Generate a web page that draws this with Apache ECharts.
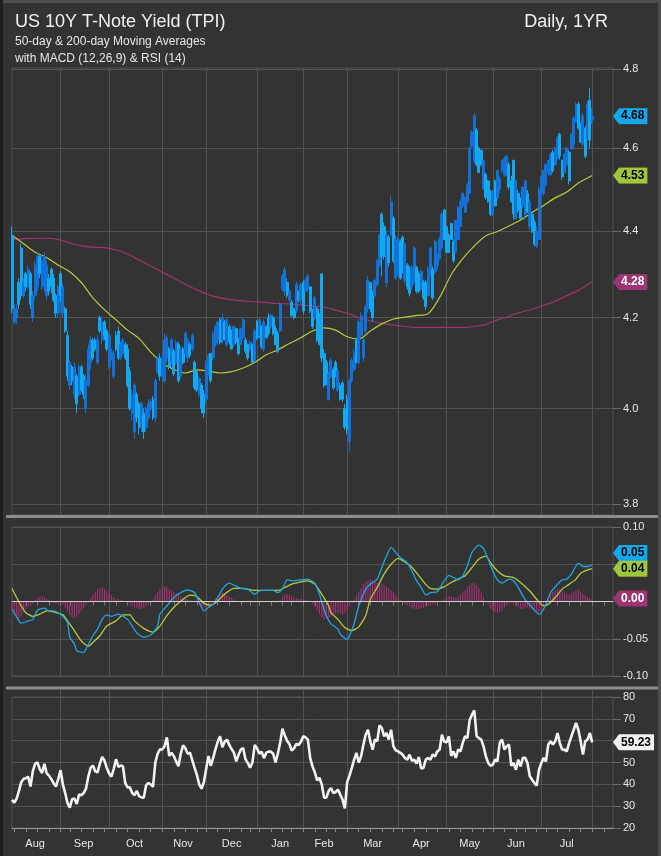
<!DOCTYPE html>
<html><head><meta charset="utf-8">
<script src="https://cdn.jsdelivr.net/npm/echarts@6/dist/echarts.min.js"></script>
<style>html,body{margin:0;padding:0;background:#333333;}#chart{width:661px;height:856px;}</style>
</head><body><div id="chart"></div>
<script>
// ---------------- DATA ----------------
const startDate = '2025-08-01';
const holidays = ['2025-09-01','2025-11-27','2025-12-25','2026-01-01','2026-01-19','2026-02-16','2026-04-03','2026-05-25','2026-06-19','2026-07-03'];
const paddingDays = 9;
const monthNames = ['Jan','Feb','Mar','Apr','May','Jun','Jul','Aug','Sep','Oct','Nov','Dec'];
const priceTicks = [3.8, 4.0, 4.2, 4.4, 4.6, 4.8];

// daily [open, close, low, high]
const ohlc = [
[4.39,4.22,4.21,4.41],[4.19,4.22,4.185,4.23],[4.20,4.22,4.186,4.23],[4.28,4.23,4.22,4.29],[4.36,4.25,4.24,4.37],
[4.25,4.28,4.245,4.29],[4.30,4.27,4.26,4.305],[4.27,4.31,4.265,4.32],[4.30,4.23,4.22,4.305],[4.20,4.25,4.19,4.26],
[4.25,4.32,4.24,4.33],[4.27,4.34,4.26,4.35],[4.34,4.30,4.29,4.345],[4.27,4.33,4.265,4.345],[4.28,4.34,4.26,4.35],
[4.25,4.32,4.24,4.33],[4.29,4.26,4.25,4.30],[4.31,4.27,4.255,4.315],[4.29,4.24,4.235,4.30],[4.25,4.21,4.20,4.255],
[4.21,4.27,4.20,4.275],[4.30,4.25,4.235,4.305],[4.21,4.27,4.20,4.28],[4.22,4.17,4.165,4.225],[4.16,4.07,4.06,4.17],
[4.05,4.10,4.04,4.105],[4.09,4.06,4.05,4.095],[4.03,4.09,4.02,4.10],[4.07,4.01,3.99,4.075],[4.03,4.09,4.025,4.095],
[4.09,4.04,4.035,4.095],[4.07,4.03,4.02,4.075],[4.00,4.06,3.99,4.075],[4.05,4.13,4.045,4.14],[4.10,4.15,4.085,4.16],
[4.15,4.11,4.105,4.155],[4.15,4.13,4.125,4.155],[4.10,4.15,4.095,4.16],[4.20,4.17,4.165,4.205],[4.15,4.19,4.14,4.20],
[4.19,4.16,4.15,4.195],[4.17,4.13,4.125,4.175],[4.09,4.16,4.085,4.165],[4.11,4.125,4.105,4.13],[4.07,4.12,4.065,4.125],
[4.16,4.13,4.125,4.17],[4.17,4.11,4.105,4.18],[4.11,4.14,4.105,4.145],[4.12,4.15,4.115,4.155],[4.14,4.11,4.105,4.145],
[4.13,4.05,4.045,4.14],[4.08,4.00,3.995,4.09],[3.99,4.03,3.975,4.04],[3.95,4.05,3.935,4.055],[4.03,3.98,3.97,4.035],
[4.01,3.96,3.945,4.015],[3.96,4.01,3.95,4.015],[3.99,3.95,3.935,4.00],[3.96,4.00,3.95,4.005],[3.98,4.01,3.975,4.02],
[4.00,4.015,3.995,4.02],[4.02,3.98,3.975,4.027],[3.98,4.06,3.97,4.065],[4.08,4.11,4.075,4.115],[4.11,4.07,4.06,4.12],
[4.07,4.11,4.065,4.12],[4.06,4.15,4.055,4.165],[4.11,4.155,4.10,4.16],[4.13,4.09,4.085,4.135],[4.10,4.15,4.095,4.155],
[4.125,4.075,4.07,4.13],[4.10,4.145,4.095,4.15],[4.14,4.06,4.055,4.145],[4.07,4.13,4.065,4.135],[4.13,4.10,4.095,4.135],
[4.12,4.165,4.115,4.17],[4.11,4.15,4.10,4.155],[4.14,4.115,4.11,4.145],[4.13,4.16,4.125,4.165],[4.10,4.045,4.04,4.105],
[4.08,4.04,4.035,4.08],[4.03,4.065,4.025,4.07],[4.05,4.00,3.99,4.055],[4.03,3.99,3.98,4.04],[4.02,4.10,4.01,4.105],
[4.08,4.115,4.07,4.12],[4.12,4.06,4.055,4.12],[4.11,4.165,4.105,4.17],[4.14,4.18,4.135,4.185],[4.15,4.19,4.14,4.193],
[4.195,4.145,4.14,4.20],[4.15,4.20,4.14,4.21],[4.19,4.15,4.15,4.195],[4.14,4.195,4.135,4.20],[4.18,4.145,4.14,4.185],
[4.17,4.13,4.128,4.172],[4.14,4.18,4.135,4.182],[4.175,4.145,4.14,4.178],[4.15,4.12,4.115,4.155],[4.14,4.175,4.138,4.178],
[4.155,4.195,4.15,4.20],[4.15,4.125,4.12,4.155],[4.14,4.11,4.105,4.142],[4.128,4.145,4.125,4.15],[4.14,4.10,4.098,4.142],
[4.105,4.17,4.10,4.175],[4.19,4.155,4.15,4.195],[4.16,4.195,4.153,4.20],[4.18,4.135,4.13,4.183],[4.13,4.19,4.124,4.196],
[4.18,4.155,4.153,4.183],[4.20,4.165,4.16,4.21],[4.18,4.205,4.175,4.21],[4.20,4.165,4.16,4.205],[4.175,4.14,4.138,4.182],
[4.165,4.125,4.12,4.17],[4.17,4.23,4.167,4.235],[4.265,4.295,4.26,4.30],[4.26,4.31,4.25,4.316],[4.28,4.25,4.245,4.29],
[4.24,4.26,4.235,4.265],[4.235,4.205,4.20,4.24],[4.22,4.20,4.196,4.222],[4.215,4.275,4.21,4.282],[4.26,4.24,4.235,4.262],
[4.24,4.275,4.23,4.28],[4.28,4.215,4.208,4.285],[4.26,4.285,4.258,4.29],[4.265,4.295,4.26,4.30],[4.27,4.215,4.21,4.27],
[4.215,4.18,4.175,4.22],[4.20,4.245,4.196,4.25],[4.22,4.15,4.145,4.225],[4.20,4.14,4.138,4.21],[4.30,4.11,4.10,4.30],
[4.12,4.05,4.045,4.13],[4.10,4.055,4.05,4.105],[4.02,4.075,4.017,4.08],[4.07,4.105,4.065,4.11],[4.085,4.045,4.04,4.09],
[4.10,4.07,4.068,4.105],[4.04,4.08,4.035,4.088],[4.05,4.02,4.017,4.056],[4.055,4.02,4.014,4.06],[4.00,3.96,3.955,4.01],
[4.02,3.955,3.945,4.03],[3.93,4.06,3.909,4.065],[4.06,4.105,4.055,4.11],[4.085,4.12,4.08,4.13],[4.15,4.10,4.098,4.155],
[4.10,4.19,4.095,4.197],[4.16,4.205,4.153,4.212],[4.11,4.15,4.102,4.155],[4.17,4.225,4.165,4.23],[4.22,4.285,4.212,4.295],
[4.28,4.22,4.212,4.282],[4.26,4.20,4.19,4.26],[4.25,4.285,4.245,4.29],[4.275,4.33,4.27,4.335],[4.32,4.39,4.315,4.395],
[4.44,4.34,4.294,4.445],[4.41,4.34,4.333,4.42],[4.28,4.39,4.27,4.40],[4.385,4.325,4.317,4.39],[4.39,4.47,4.386,4.485],
[4.43,4.33,4.325,4.435],[4.29,4.38,4.286,4.39],[4.30,4.38,4.294,4.387],[4.375,4.29,4.286,4.38],[4.385,4.305,4.302,4.39],
[4.285,4.37,4.278,4.372],[4.32,4.27,4.263,4.325],[4.31,4.255,4.248,4.317],[4.27,4.315,4.263,4.32],[4.28,4.36,4.275,4.364],
[4.315,4.26,4.255,4.318],[4.30,4.26,4.255,4.306],[4.265,4.305,4.26,4.31],[4.28,4.245,4.24,4.286],[4.28,4.225,4.217,4.286],
[4.25,4.31,4.248,4.317],[4.30,4.36,4.294,4.364],[4.31,4.245,4.24,4.317],[4.305,4.375,4.30,4.38],[4.32,4.345,4.31,4.348],
[4.335,4.38,4.333,4.387],[4.36,4.44,4.356,4.445],[4.45,4.38,4.379,4.452],[4.41,4.35,4.348,4.412],[4.39,4.35,4.348,4.395],
[4.418,4.38,4.379,4.42],[4.375,4.33,4.325,4.38],[4.35,4.425,4.348,4.427],[4.38,4.455,4.379,4.46],[4.41,4.47,4.41,4.475],
[4.46,4.49,4.455,4.492],[4.445,4.48,4.443,4.483],[4.47,4.51,4.467,4.515],[4.49,4.60,4.49,4.605],[4.605,4.64,4.60,4.646],
[4.57,4.68,4.564,4.688],[4.645,4.56,4.556,4.65],[4.60,4.54,4.54,4.604],[4.595,4.56,4.556,4.597],[4.50,4.57,4.498,4.572],
[4.535,4.48,4.475,4.54],[4.52,4.47,4.467,4.523],[4.49,4.44,4.435,4.498],[4.44,4.495,4.435,4.498],[4.52,4.46,4.459,4.523],
[4.48,4.545,4.475,4.548],[4.50,4.525,4.49,4.532],[4.545,4.57,4.54,4.572],[4.535,4.575,4.53,4.58],[4.54,4.58,4.532,4.584],
[4.56,4.505,4.499,4.566],[4.52,4.47,4.467,4.532],[4.57,4.44,4.427,4.572],[4.43,4.52,4.427,4.523],[4.49,4.45,4.443,4.498],
[4.475,4.43,4.427,4.48],[4.46,4.505,4.455,4.507],[4.44,4.52,4.427,4.523],[4.49,4.445,4.443,4.498],[4.41,4.47,4.403,4.475],
[4.44,4.40,4.395,4.443],[4.42,4.37,4.364,4.427],[4.365,4.40,4.36,4.41],[4.38,4.50,4.379,4.507],[4.49,4.53,4.483,4.532],
[4.49,4.545,4.483,4.548],[4.51,4.56,4.507,4.564],[4.54,4.57,4.533,4.572],[4.535,4.585,4.532,4.588],[4.59,4.545,4.54,4.596],
[4.56,4.60,4.556,4.604],[4.575,4.625,4.572,4.63],[4.635,4.58,4.572,4.638],[4.57,4.53,4.523,4.572],[4.54,4.585,4.54,4.588],
[4.56,4.60,4.556,4.604],[4.59,4.52,4.511,4.596],[4.60,4.635,4.596,4.638],[4.61,4.675,4.596,4.68],[4.665,4.71,4.663,4.714],
[4.71,4.65,4.646,4.716],[4.655,4.615,4.613,4.663],[4.61,4.68,4.604,4.688],[4.65,4.58,4.575,4.655],[4.625,4.71,4.621,4.718],
[4.72,4.62,4.60,4.752],[4.67,4.68,4.66,4.70]
];

// moving averages read at trading-day indices: [day, value]
const ma50 = [[0,4.39],[5,4.37],[10,4.35],[15,4.338],[20,4.32],[25,4.305],[30,4.28],[35,4.245],[40,4.218],[45,4.195],
[50,4.172],[55,4.153],[60,4.123],[65,4.099],[70,4.085],[75,4.077],[80,4.084],[85,4.081],[90,4.077],[95,4.080],
[100,4.088],[105,4.10],[110,4.117],[115,4.128],[120,4.142],[125,4.155],[130,4.170],[135,4.177],[140,4.172],[145,4.157],
[150,4.152],[155,4.17],[160,4.186],[165,4.197],[170,4.201],[175,4.205],[180,4.209],[185,4.246],[190,4.298],[195,4.335],
[200,4.365],[205,4.389],[210,4.399],[215,4.412],[220,4.426],[225,4.444],[230,4.461],[235,4.479],[240,4.493],[245,4.515],
[250,4.53],[251,4.533]];
const ma200 = [[0,4.379],[5,4.382],[10,4.383],[15,4.383],[20,4.38],[25,4.372],[30,4.365],[35,4.362],[40,4.361],[45,4.356],
[50,4.346],[55,4.332],[60,4.318],[65,4.304],[70,4.29],[75,4.276],[80,4.263],[85,4.252],[90,4.245],[95,4.241],
[100,4.238],[105,4.236],[110,4.234],[115,4.232],[120,4.231],[125,4.229],[130,4.226],[135,4.224],[140,4.217],[145,4.21],
[150,4.2],[155,4.193],[160,4.187],[165,4.183],[170,4.18],[175,4.178],[180,4.178],[185,4.178],[190,4.178],[195,4.178],
[200,4.18],[205,4.185],[210,4.195],[215,4.203],[220,4.212],[225,4.219],[230,4.228],[235,4.237],[240,4.25],[245,4.262],
[250,4.279],[251,4.281]];

// MACD (12,26,9): [day, value]
const macdLine = [[0,-0.010],[3,-0.026],[4,-0.029],[7,-0.026],[9,-0.024],[11,-0.012],[14,-0.009],[16,-0.0125],[18,-0.0125],[21,-0.017],
[22,-0.020],[24,-0.028],[25,-0.048],[27,-0.057],[28,-0.066],[31,-0.0685],[32,-0.064],[35,-0.046],[37,-0.037],[39,-0.024],
[41,-0.018],[43,-0.020],[46,-0.017],[50,-0.024],[52,-0.033],[54,-0.042],[57,-0.048],[60,-0.045],[61,-0.042],[63,-0.033],
[64,-0.017],[67,-0.006],[70,0.0054],[73,0.012],[76,0.0157],[79,0.012],[81,-0.0013],[83,-0.0125],[85,-0.008],[87,-0.0036],
[89,0.0054],[91,0.0166],[94,0.0246],[96,0.022],[99,0.0175],[102,0.0166],[105,0.0099],[107,0.0143],[110,0.0148],[113,0.0148],
[115,0.012],[117,0.0166],[119,0.029],[122,0.0278],[125,0.029],[128,0.030],[131,0.0246],[133,0.0099],[134,-0.0013],[136,-0.019],
[138,-0.030],[141,-0.037],[142,-0.044],[145,-0.051],[146,-0.046],[148,-0.030],[150,-0.006],[153,0.0166],[155,0.023],[158,0.030],
[160,0.0457],[162,0.061],[164,0.0726],[166,0.066],[168,0.059],[171,0.052],[173,0.041],[175,0.028],[177,0.019],[179,0.0085],
[181,0.012],[184,0.013],[186,0.023],[189,0.035],[191,0.032],[193,0.029],[195,0.0345],[197,0.048],[199,0.066],[202,0.0757],
[204,0.071],[206,0.057],[208,0.041],[210,0.029],[212,0.0246],[215,0.030],[217,0.0278],[219,0.019],[221,0.0076],[223,-0.0013],
[225,-0.008],[228,-0.017],[229,-0.0148],[231,-0.0036],[233,0.012],[236,0.023],[238,0.029],[240,0.030],[242,0.0367],[245,0.0515],
[247,0.047],[249,0.047],[251,0.049]];
const signalLine = [[0,0.0175],[2,0.0054],[4,-0.006],[6,-0.015],[9,-0.020],[12,-0.017],[15,-0.0125],[18,-0.014],[22,-0.018],[24,-0.026],
[27,-0.039],[30,-0.053],[33,-0.060],[35,-0.055],[38,-0.046],[41,-0.033],[45,-0.026],[48,-0.018],[51,-0.018],[53,-0.026],
[57,-0.036],[61,-0.041],[64,-0.033],[67,-0.019],[70,-0.008],[74,0.003],[77,0.0085],[80,0.0067],[83,-0.0022],[86,-0.005],
[89,0.0009],[92,0.0099],[96,0.0175],[100,0.0175],[105,0.0148],[110,0.0148],[115,0.0148],[118,0.0188],[121,0.0233],[125,0.0264],
[128,0.0278],[131,0.0233],[134,0.0099],[137,-0.006],[138,-0.015],[141,-0.024],[144,-0.035],[147,-0.039],[150,-0.034],[153,-0.019],
[155,0.003],[158,0.019],[161,0.037],[164,0.050],[167,0.058],[170,0.053],[173,0.046],[176,0.0345],[179,0.023],[181,0.0175],
[184,0.0166],[187,0.020],[190,0.0255],[193,0.030],[196,0.0345],[199,0.0457],[202,0.057],[205,0.061],[207,0.052],[210,0.041],
[213,0.0345],[217,0.032],[220,0.0255],[224,0.014],[227,0.003],[230,-0.006],[232,-0.0036],[235,0.0054],[238,0.0166],[241,0.023],
[244,0.030],[246,0.038],[249,0.0425],[251,0.044]];
// MACD histogram, daily
const macdHist = [
-0.010,-0.018,-0.022,-0.024,-0.020,-0.015,-0.010,-0.007,-0.005,-0.003,
0.002,0.004,0.006,0.007,0.006,0.004,0.002,-0.001,-0.002,-0.003,
-0.003,-0.002,-0.004,-0.008,-0.013,-0.018,-0.021,-0.022,-0.020,-0.017,
-0.013,-0.009,-0.005,-0.001,0.004,0.009,0.013,0.016,0.018,0.019,
0.017,0.014,0.011,0.008,0.006,0.004,0.003,0.002,0.001,0.000,
-0.002,-0.004,-0.006,-0.008,-0.009,-0.010,-0.010,-0.008,-0.006,-0.004,
-0.001,0.003,0.008,0.013,0.017,0.019,0.020,0.019,0.017,0.015,
0.013,0.011,0.009,0.007,0.005,0.004,0.003,0.002,0.001,-0.001,
-0.003,-0.005,-0.007,-0.008,-0.007,-0.005,-0.003,0.000,0.004,0.008,
0.011,0.012,0.011,0.009,0.007,0.005,0.003,0.001,0.000,-0.001,
-0.002,-0.001,0.000,0.001,-0.001,-0.002,0.000,0.001,0.000,-0.001,
0.000,0.001,0.000,-0.001,-0.002,0.000,0.002,0.006,0.009,0.010,
0.009,0.007,0.005,0.004,0.003,0.004,0.003,0.002,0.001,0.000,
-0.003,-0.007,-0.012,-0.017,-0.021,-0.024,-0.023,-0.022,-0.020,-0.018,
-0.016,-0.015,-0.016,-0.017,-0.015,-0.012,-0.007,-0.002,0.003,0.008,
0.013,0.018,0.023,0.027,0.029,0.030,0.029,0.027,0.026,0.025,
0.024,0.022,0.020,0.018,0.015,0.012,0.008,0.005,0.002,-0.001,
-0.003,-0.005,-0.007,-0.009,-0.010,-0.010,-0.010,-0.009,-0.008,-0.007,
-0.006,-0.005,-0.004,-0.003,-0.002,-0.001,0.001,0.003,0.005,0.007,
0.007,0.006,0.005,0.006,0.009,0.012,0.015,0.019,0.022,0.024,
0.025,0.022,0.018,0.012,0.006,0.001,-0.004,-0.009,-0.012,-0.014,
-0.015,-0.014,-0.012,-0.008,-0.005,-0.003,-0.002,-0.004,-0.006,-0.008,
-0.010,-0.010,-0.009,-0.008,-0.009,-0.011,-0.013,-0.015,-0.014,-0.011,
-0.006,-0.001,0.004,0.009,0.013,0.015,0.016,0.017,0.015,0.012,
0.010,0.009,0.011,0.013,0.015,0.016,0.013,0.010,0.008,0.006,
0.005,0.004];
// RSI (14), daily
const rsi = [
32.9,31.6,33.5,37.0,41.0,42.5,42.8,43.5,39.0,46.0,
49.4,50.0,47.0,45.2,49.4,45.0,44.0,42.4,40.5,39.0,
42.4,46.5,40.0,36.0,31.5,29.3,33.2,33.5,31.0,35.3,
35.0,36.0,38.0,43.5,47.5,48.6,46.0,45.5,49.4,52.5,
50.9,47.5,45.0,43.5,47.0,51.5,48.0,48.6,48.3,40.5,
38.6,38.6,36.0,35.0,37.0,34.5,34.0,33.9,39.5,40.6,
40.0,38.8,50.0,54.0,56.0,56.0,57.5,61.5,53.0,54.5,
53.0,50.5,48.3,54.0,57.9,56.5,54.0,54.5,51.0,47.5,
44.3,40.0,38.0,41.0,47.0,53.0,48.5,52.0,56.0,59.5,
62.0,57.0,59.5,60.5,58.0,56.2,54.5,50.5,53.5,56.0,
56.6,51.5,49.8,47.6,50.0,58.0,56.5,54.0,55.0,52.0,
54.5,55.0,55.0,54.0,50.0,54.0,59.0,65.5,62.5,60.0,
58.5,55.5,56.5,58.5,58.0,59.5,62.0,61.5,60.5,52.0,
48.2,45.5,41.8,43.0,40.0,33.9,33.9,37.0,38.3,36.0,
36.5,37.6,35.3,33.0,29.0,41.0,44.0,47.5,51.3,54.4,
50.0,52.8,58.0,62.7,65.0,59.7,55.9,60.5,59.7,67.0,
65.8,62.0,63.5,60.5,65.0,57.4,55.6,55.1,54.4,53.6,
52.1,51.3,53.6,50.8,51.3,49.5,52.5,47.2,47.5,51.3,
52.1,51.3,53.6,52.8,55.1,55.9,62.7,59.5,59.3,62.0,
53.0,55.1,52.1,55.9,55.1,59.0,62.0,61.2,69.5,71.9,
73.9,62.0,61.2,60.5,57.4,52.8,49.8,48.5,49.0,51.3,
50.5,59.0,60.5,56.0,57.4,58.2,48.5,49.8,46.7,51.3,
48.2,52.1,52.1,49.8,43.7,42.1,40.6,39.4,46.7,49.8,
52.1,50.5,58.2,59.7,58.2,59.7,63.5,58.9,55.9,55.9,
55.1,58.9,62.0,65.0,68.1,65.0,59.7,53.6,59.7,60.5,
63.5,59.23];

// ---------------- BUILD ----------------
const GRID = '#535353';
const FONT = 'Liberation Sans, Arial, sans-serif';
const C_UP = '#1372d8', C_DOWN = '#12a9f0';
const C_MA50 = '#b3cc3c', C_MA200 = '#a3336c';
const C_MACD = '#1ea6e4', C_SIG = '#b3cc3c', C_HIST = '#b2307c';

function fmt(d){ return d.toISOString().slice(0,10); }
const categories = [];
{
  const d = new Date(startDate + 'T00:00:00Z');
  while (categories.length < ohlc.length + paddingDays) {
    const wd = d.getUTCDay(), s = fmt(d);
    if (wd !== 0 && wd !== 6 && holidays.indexOf(s) < 0) categories.push(s);
    d.setUTCDate(d.getUTCDate() + 1);
  }
}
const monthStart = new Set(), weekStart = new Set(), labelIdx = new Map();
const groups = {};
categories.forEach((c, i) => {
  if (i > 0) {
    if (c.slice(0,7) !== categories[i-1].slice(0,7)) monthStart.add(i);
    const a = new Date(c + 'T00:00:00Z').getUTCDay(), b = new Date(categories[i-1] + 'T00:00:00Z').getUTCDay();
    if (a < b) weekStart.add(i);
  }
  if (i < ohlc.length) { const k = c.slice(0,7); (groups[k] = groups[k] || []).push(i); }
});
Object.keys(groups).forEach(k => {
  const g = groups[k];
  if (g.length >= 10) labelIdx.set(g[Math.floor(g.length / 2)], monthNames[+k.slice(5,7) - 1]);
});

const pts = arr => arr.map(p => [categories[p[0]], p[1]]);
const last = a => a[a.length - 1];

function triImg(color){
  const svg = "<svg xmlns='http://www.w3.org/2000/svg' width='6' height='16'><polygon points='0,8 6,0 6,16' fill='" + color + "'/></svg>";
  return 'data:image/svg+xml;charset=utf-8,' + encodeURIComponent(svg);
}
// one axis per value tag so that tags never hide each other
function tagAxis(gridIndex, type, min, max, t){
  const lift = t.lift || 0;
  const ax = {
    type, gridIndex, position: 'right', min, max,
    axisLine: { show: false }, axisTick: { show: false }, splitLine: { show: false },
    axisLabel: {
      customValues: [t.value], margin: 0,
      rich: {
        p: { width: 6, height: 16, backgroundColor: { image: triImg(t.bg) } },
        t: { backgroundColor: t.bg, color: t.fg, fontSize: 12, fontWeight: 'bold', fontFamily: FONT,
             height: 16, lineHeight: 16, padding: [0, 3, 0, 2] },
        s: { height: lift * 2, lineHeight: lift * 2, width: 1 }
      },
      formatter: () => '{p|}{t|' + t.text + '}' + (lift ? '\n{s|}' : '')
    }
  };
  if (type === 'log') ax.logBase = 10;
  return ax;
}

const lastClose = last(ohlc)[1];
const priceMin = 3.7776, priceMax = 4.8026;

const xBase = (gridIndex, extra) => Object.assign({
  type: 'category', gridIndex, data: categories, boundaryGap: false,
  axisLine: { show: false }, axisTick: { show: false }, axisLabel: { show: false },
  splitLine: { show: true, interval: i => monthStart.has(i), lineStyle: { color: GRID, width: 1 } }
}, extra || {});

const tagDefs = [
  [0, 'log', priceMin, priceMax, { value: lastClose, text: lastClose.toFixed(2), bg: '#14a8ea', fg: '#000' }],
  [0, 'log', priceMin, priceMax, { value: last(ma50)[1], text: last(ma50)[1].toFixed(2), bg: '#9fc63c', fg: '#000' }],
  [0, 'log', priceMin, priceMax, { value: last(ma200)[1], text: last(ma200)[1].toFixed(2), bg: '#9c3571', fg: '#fff' }],
  [1, 'value', -0.10, 0.10, { value: last(macdLine)[1], text: last(macdLine)[1].toFixed(2), bg: '#14a8ea', fg: '#000', lift: 12 }],
  [1, 'value', -0.10, 0.10, { value: last(signalLine)[1], text: last(signalLine)[1].toFixed(2), bg: '#9fc63c', fg: '#000' }],
  [1, 'value', -0.10, 0.10, { value: last(macdHist), text: last(macdHist).toFixed(2), bg: '#9c3571', fg: '#fff' }],
  [2, 'value', 20, 80, { value: last(rsi), text: last(rsi).toFixed(2), bg: '#f2f2f2', fg: '#000' }]
];

const option = {
  animation: false,
  backgroundColor: '#333333',
  textStyle: { fontFamily: FONT },
  title: [
    { text: 'US 10Y T-Note Yield (TPI)', left: 15, top: 12, padding: 0,
      textStyle: { color: '#f0f0f0', fontSize: 18, fontWeight: 'normal', lineHeight: 20, fontFamily: FONT } },
    { text: 'Daily, 1YR', right: 53, top: 12, padding: 0,
      textStyle: { color: '#f0f0f0', fontSize: 18, fontWeight: 'normal', lineHeight: 20, fontFamily: FONT } },
    { text: '50-day & 200-day Moving Averages\nwith MACD (12,26,9) & RSI (14)', left: 15, top: 33, padding: 0,
      textStyle: { color: '#e6e6e6', fontSize: 12, fontWeight: 'normal', lineHeight: 17, fontFamily: FONT } }
  ],
  grid: [
    { left: 12, right: 48, top: 68, height: 447, show: true, borderColor: GRID, borderWidth: 1 },
    { left: 12, right: 48, top: 527, height: 149, show: true, borderColor: GRID, borderWidth: 1 },
    { left: 12, right: 48, top: 697, height: 131, show: true, borderColor: GRID, borderWidth: 1 }
  ],
  xAxis: [
    xBase(0),
    xBase(1, { axisLine: { show: true, lineStyle: { color: GRID } },
               axisTick: { show: true, interval: i => weekStart.has(i), length: 4, lineStyle: { color: '#7a7a7a' } } }),
    xBase(2, { axisLine: { show: true, lineStyle: { color: '#9a9a9a' } },
               axisTick: { show: true, interval: i => weekStart.has(i), length: 4, lineStyle: { color: '#8a8a8a' } },
               axisLabel: { show: true, interval: i => labelIdx.has(i), formatter: (v, i) => labelIdx.get(i) || '',
                            color: '#e8e8e8', fontSize: 11, margin: 10, fontFamily: FONT } }),
    xBase(1, { splitLine: { show: false }, axisTick: { show: true, interval: i => monthStart.has(i), length: 7, lineStyle: { color: GRID } } }),
    xBase(2, { splitLine: { show: false }, axisTick: { show: true, interval: i => monthStart.has(i), length: 7, lineStyle: { color: GRID } } })
  ],
  yAxis: [
    { type: 'log', logBase: 10, gridIndex: 0, position: 'right', min: priceMin, max: priceMax,
      axisLine: { show: false },
      axisTick: { show: true, length: 8, customValues: priceTicks, lineStyle: { color: '#6a6a6a' } },
      axisLabel: { customValues: priceTicks, color: '#e8e8e8', fontSize: 11, margin: 10, formatter: v => Number(v).toFixed(1) },
      splitLine: { show: true, lineStyle: { color: GRID } } },
    { type: 'value', gridIndex: 1, position: 'right', min: -0.10, max: 0.10, interval: 0.05,
      axisLine: { show: false }, axisTick: { show: true, length: 8, lineStyle: { color: '#6a6a6a' } },
      axisLabel: { color: '#e8e8e8', fontSize: 11, margin: 10, formatter: v => Math.abs(v) < 1e-9 ? '' : v.toFixed(2) },
      splitLine: { show: true, lineStyle: { color: GRID } } },
    { type: 'value', gridIndex: 2, position: 'right', min: 20, max: 80, interval: 10,
      axisLine: { show: false }, axisTick: { show: true, length: 8, lineStyle: { color: '#6a6a6a' } },
      axisLabel: { color: '#e8e8e8', fontSize: 11, margin: 10 },
      splitLine: { show: true, lineStyle: { color: GRID } } }
  ].concat(tagDefs.map(d => tagAxis(d[0], d[1], d[2], d[3], d[4]))),
  series: [
    { name: 'MA200', type: 'line', xAxisIndex: 0, yAxisIndex: 0, data: pts(ma200), symbol: 'none', smooth: 0.3,
      lineStyle: { color: C_MA200, width: 1.2 }, z: 2 },
    { name: 'MA50', type: 'line', xAxisIndex: 0, yAxisIndex: 0, data: pts(ma50), symbol: 'none', smooth: 0.3,
      lineStyle: { color: C_MA50, width: 1.2 }, z: 3 },
    { name: 'TPI', type: 'candlestick', xAxisIndex: 0, yAxisIndex: 0, data: ohlc, barWidth: 2.5, z: 4,
      itemStyle: { color: C_UP, color0: C_DOWN, borderColor: C_UP, borderColor0: C_DOWN, borderWidth: 1 } },
    { name: 'Hist', type: 'bar', xAxisIndex: 1, yAxisIndex: 1, data: macdHist, barWidth: 1,
      itemStyle: { color: C_HIST },
      markLine: { silent: true, symbol: 'none', label: { show: false }, animation: false,
                  lineStyle: { color: '#cfcfcf', width: 1, type: 'solid' }, data: [{ yAxis: 0 }] } },
    { name: 'Signal', type: 'line', xAxisIndex: 1, yAxisIndex: 1, data: pts(signalLine), symbol: 'none', smooth: 0.2,
      lineStyle: { color: C_SIG, width: 1.3 } },
    { name: 'MACD', type: 'line', xAxisIndex: 1, yAxisIndex: 1, data: pts(macdLine), symbol: 'none', smooth: 0.2,
      lineStyle: { color: C_MACD, width: 1.3 } },
    { name: 'RSI', type: 'line', xAxisIndex: 2, yAxisIndex: 2, data: rsi, symbol: 'none',
      lineStyle: { color: '#f2f2f2', width: 2.6 } }
  ],
  graphic: [
    { type: 'rect', z: 100, shape: { x: 6, y: 515, width: 655, height: 3 }, style: { fill: '#8c8c8c' } },
    { type: 'rect', z: 100, shape: { x: 6, y: 686.5, width: 655, height: 3 }, style: { fill: '#8c8c8c' } },
    { type: 'rect', z: 100, shape: { x: 0, y: 0, width: 661, height: 3 }, style: { fill: '#4e4e4e' } },
    { type: 'rect', z: 100, shape: { x: 658, y: 0, width: 3, height: 856 }, style: { fill: '#4e4e4e' } },
    { type: 'rect', z: 100, shape: { x: 0, y: 0, width: 3, height: 856 }, style: { fill: '#1f1f1f' } }
  ]
};
const chart = echarts.init(document.getElementById('chart'), null, { renderer: 'canvas' });
chart.setOption(option);
</script>
</body></html>
